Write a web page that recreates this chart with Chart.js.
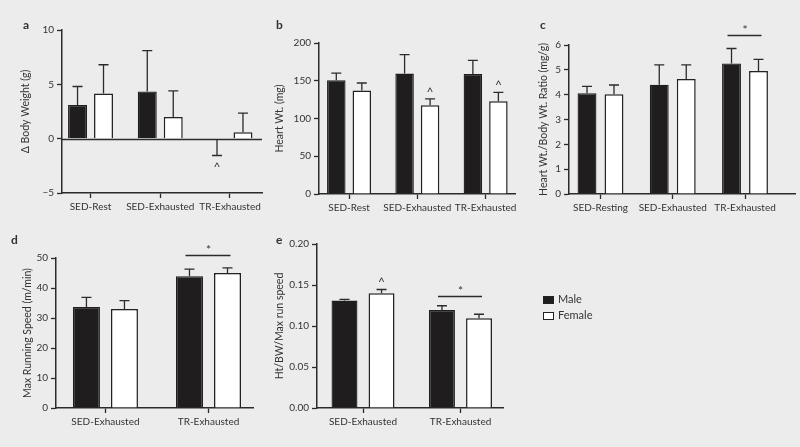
<!DOCTYPE html>
<html><head><meta charset="utf-8">
<script src="https://cdn.jsdelivr.net/npm/chart.js@4"></script>
<style>
html,body{margin:0;padding:0;background:#ececec;width:800px;height:447px;overflow:hidden;font-family:Lato,sans-serif}
canvas{position:absolute;left:0;top:0}
.lg{position:absolute;font-size:11px;line-height:14px;color:#333}
.bx{position:absolute;width:9px;height:6px;border:1.3px solid #222}
</style></head><body>
<canvas id="ca" width="800" height="447"></canvas>
<canvas id="cb" width="800" height="447"></canvas>
<canvas id="cc" width="800" height="447"></canvas>
<canvas id="cd" width="800" height="447"></canvas>
<canvas id="ce" width="800" height="447"></canvas>
<div class="bx" style="left:543px;top:296px;background:#1f1d1e"></div>
<div class="lg" style="left:558px;top:292px">Male</div>
<div class="bx" style="left:543px;top:312px;background:#fff"></div>
<div class="lg" style="left:558px;top:308px">Female</div>
<script>
// ---- data ----
const catsA = ['SED-Rest','SED-Exhausted','TR-Exhausted'];
const maleA = [3.1, 4.35, -0.1];
const maleErrA = [1.7, 3.75, 1.45];
const femaleA = [4.15, 2.0, 0.6];
const femaleErrA = [2.65, 2.4, 1.75];

const catsB = ['SED-Rest','SED-Exhausted','TR-Exhausted'];
const maleB = [150.5, 159.5, 159];
const maleErrB = [9.5, 25, 18];
const femaleB = [137, 117.5, 123];
const femaleErrB = [10, 8.5, 11.5];

const catsC = ['SED-Resting','SED-Exhausted','TR-Exhausted'];
const maleC = [4.06, 4.4, 5.26];
const maleErrC = [0.27, 0.8, 0.6];
const femaleC = [4.02, 4.63, 4.95];
const femaleErrC = [0.37, 0.57, 0.47];

const catsD = ['SED-Exhausted','TR-Exhausted'];
const maleD = [33.7, 43.9];
const maleErrD = [3.2, 2.4];
const femaleD = [33, 45];
const femaleErrD = [2.8, 1.7];

const catsE = ['SED-Exhausted','TR-Exhausted'];
const maleE = [0.131, 0.1195];
const maleErrE = [0.0015, 0.0052];
const femaleE = [0.140, 0.1095];
const femaleErrE = [0.0045, 0.0048];

// significance markers: [category index, bar value level]
const sigC = [[2, 6.4]];
const sigD = [[1, 51.1]];
const sigE = [[1, 0.1366]];
// caret markers: [series index, category index, side]
const caretA = [[0, 2, 'below']];
const caretB = [[1, 1, 'above'], [1, 2, 'above']];
const caretE = [[1, 0, 'above']];

const TXT = '#333333', AX = '#2b2b2b';
Chart.defaults.font.family = 'Lato, sans-serif';
Chart.defaults.color = TXT;

// tick font size fitted so the label width matches the reference (~66px)
const mctx = document.createElement('canvas').getContext('2d');
mctx.font = '20px Lato, sans-serif';
const TICK = Math.max(10, Math.min(11.5, 20 * 66 / mctx.measureText('SED-Exhausted').width));

function extrasPlugin(p) {
  return {
    id: 'extras',
    afterDatasetsDraw(chart) {
      const ctx = chart.ctx, y = chart.scales.y, ca = chart.chartArea;
      ctx.save();
      ctx.strokeStyle = AX; ctx.lineWidth = 1.3; ctx.fillStyle = TXT;
      if (p.zeroLine) {
        const y0 = Math.round(y.getPixelForValue(0)) + 0.5;
        ctx.beginPath(); ctx.moveTo(ca.left, y0); ctx.lineTo(ca.right, y0); ctx.stroke();
      }
      const ends = [[], []];
      chart.data.datasets.forEach((ds, di) => {
        const meta = chart.getDatasetMeta(di);
        meta.data.forEach((bar, i) => {
          const v = ds.data[i], e = p.errors[di][i];
          const end = v + (v < 0 ? -e : e);
          const y0 = y.getPixelForValue(v), y1 = y.getPixelForValue(end);
          ends[di][i] = {x: bar.x, y: y1};
          ctx.beginPath();
          ctx.moveTo(bar.x, y0); ctx.lineTo(bar.x, y1);
          ctx.moveTo(bar.x - 5, y1); ctx.lineTo(bar.x + 5, y1);
          ctx.stroke();
        });
      });
      ctx.font = '12px Lato, sans-serif';
      ctx.textAlign = 'center'; ctx.textBaseline = 'middle';
      (p.carets || []).forEach(([di, i, side]) => {
        const pt = ends[di][i];
        ctx.fillText('^', pt.x, side === 'above' ? pt.y - 7 : pt.y + 12);
      });
      (p.sig || []).forEach(([i, v]) => {
        const m = chart.getDatasetMeta(0).data[i], f = chart.getDatasetMeta(1).data[i];
        const yy = Math.round(y.getPixelForValue(v)) + 0.5;
        ctx.beginPath(); ctx.moveTo(m.x - 4, yy); ctx.lineTo(f.x + 3, yy); ctx.stroke();
        ctx.fillText('*', (m.x + f.x) / 2, yy - 5);
      });
      ctx.font = 'bold 12px Lato, sans-serif';
      ctx.textAlign = 'left'; ctx.textBaseline = 'middle';
      ctx.fillText(p.letter, p.letterX, p.letterY);
      ctx.restore();
    }
  };
}

function panel(id, cats, male, maleErr, female, femaleErr, L, ys, extra) {
  const W = L.left - (L.titleX - 6.3);
  const H = 30;
  new Chart(document.getElementById(id), {
    type: 'bar',
    data: {
      labels: cats.map((c, i) => i),
      datasets: [
        {label: 'Male', data: male, backgroundColor: '#1f1d1e', borderColor: '#1f1d1e', borderWidth: 1.3,
         categoryPercentage: L.cp, barPercentage: L.bp},
        {label: 'Female', data: female, backgroundColor: '#ffffff', borderColor: '#222', borderWidth: 1.5,
         categoryPercentage: L.cp, barPercentage: L.bp}
      ]
    },
    options: {
      responsive: false, animation: false, events: [],
      layout: {padding: {left: L.left - W, right: 800 - L.right, top: L.top, bottom: 447 - L.bottom - H}},
      plugins: {legend: {display: false}, tooltip: {enabled: false}},
      scales: {
        x: {
          type: 'linear', min: L.xmin, max: L.xmax, offset: false, bounds: 'data',
          afterBuildTicks: s => { s.ticks = cats.map((c, i) => ({value: i})); },
          afterFit: s => { s.height = H; },
          grid: {display: true, drawOnChartArea: false, drawTicks: true, tickLength: 5, tickColor: AX, tickWidth: 1.3, offset: false},
          border: {display: true, color: AX, width: 1.5},
          ticks: {autoSkip: false, maxRotation: 0, padding: 2.5, color: TXT, font: {size: TICK},
                  callback: v => cats[v]}
        },
        y: {
          min: ys.min, max: ys.max,
          afterFit: s => { s.width = W; },
          grid: {display: true, drawOnChartArea: false, drawTicks: true, tickLength: 5, tickColor: AX, tickWidth: 1.3},
          border: {display: true, color: AX, width: 1.5},
          ticks: {stepSize: ys.step, padding: 3, color: TXT, font: {size: TICK}, callback: ys.fmt},
          title: {display: true, text: ys.title, padding: 0, color: TXT, font: {size: 10.5}}
        }
      }
    },
    plugins: [extrasPlugin(Object.assign({errors: [maleErr, femaleErr]}, extra))]
  });
}

panel('ca', catsA, maleA, maleErrA, femaleA, femaleErrA,
  {left: 62, right: 262, top: 30, bottom: 193, xmin: -0.409, xmax: 2.459, titleX: 26, cp: 0.745, bp: 0.73},
  {min: -5, max: 10, step: 5, title: 'Δ Body Weight (g)', fmt: v => String(v).replace('-', '−')},
  {zeroLine: true, carets: caretA, letter: 'a', letterX: 23, letterY: 25});

panel('cb', catsB, maleB, maleErrB, femaleB, femaleErrB,
  {left: 319, right: 515, top: 43, bottom: 194, xmin: -0.44, xmax: 2.43, titleX: 280, cp: 0.747, bp: 0.725},
  {min: 0, max: 200, step: 50, title: 'Heart Wt. (mg)', fmt: v => String(v)},
  {carets: caretB, letter: 'b', letterX: 276, letterY: 25});

panel('cc', catsC, maleC, maleErrC, femaleC, femaleErrC,
  {left: 569, right: 795, top: 45, bottom: 194, xmin: -0.436, xmax: 2.692, titleX: 544, cp: 0.747, bp: 0.70},
  {min: 0, max: 6, step: 1, title: 'Heart Wt./Body Wt. Ratio (mg/g)', fmt: v => String(v)},
  {sig: sigC, letter: 'c', letterX: 540, letterY: 25});

panel('cd', catsD, maleD, maleErrD, femaleD, femaleErrD,
  {left: 56, right: 253, top: 258, bottom: 408, xmin: -0.48, xmax: 1.432, titleX: 28, cp: 0.738, bp: 0.71},
  {min: 0, max: 50, step: 10, title: 'Max Running Speed (m/min)', fmt: v => String(v)},
  {sig: sigD, letter: 'd', letterX: 11, letterY: 240});

panel('ce', catsE, maleE, maleErrE, femaleE, femaleErrE,
  {left: 317, right: 503, top: 244, bottom: 408, xmin: -0.472, xmax: 1.436, titleX: 280, cp: 0.76, bp: 0.70},
  {min: 0, max: 0.2, step: 0.05, title: 'Ht/BW/Max run speed', fmt: v => v.toFixed(2)},
  {carets: caretE, sig: sigE, letter: 'e', letterX: 276, letterY: 240});
</script>
</body></html>
